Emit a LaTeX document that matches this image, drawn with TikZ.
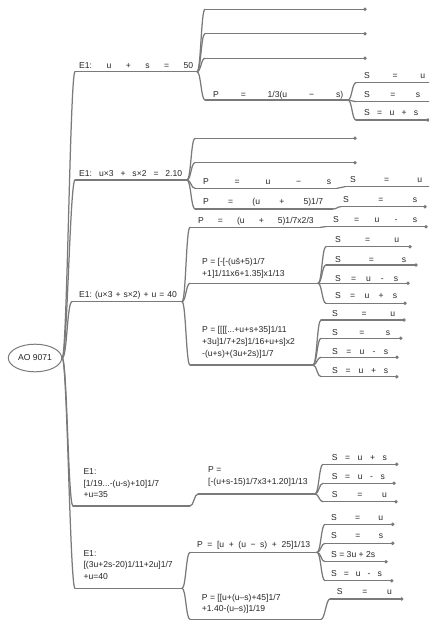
\documentclass[tikz,border=0pt]{standalone}
\usepackage{fontspec}
\setmainfont{Liberation Sans}
\usetikzlibrary{calc,shapes.geometric}
\definecolor{lc}{HTML}{7A7A7A}
\definecolor{tc}{HTML}{262626}
\tikzset{
 ln/.style={draw=lc, line width=1.25pt, line cap=round},
 br/.style={to path={.. controls ($(\tikztostart)+(4,0)$) and ($(\tikztotarget)+(-4,0)$) .. (\tikztotarget)}},
 brr/.style={to path={.. controls ($(\tikztostart)+(5,0)$) and ($(\tikztotarget)+(-5,0)$) .. (\tikztotarget)}},
 txt/.style={anchor=south west, inner sep=0pt, text depth=0pt, align=left, text=tc, font=\fontsize{8.6}{11.6}\selectfont\frenchspacing},
 dotc/.style={fill=lc},
 rootnode/.style={ellipse, draw=lc, line width=1pt, minimum width=53.4pt, minimum height=27.6pt, inner sep=0pt, text=tc, font=\fontsize{8.6}{10}\selectfont},
}
% name, xs, xe, y, tx, baseline, text
\newcommand\mmtopic[7]{%
 \coordinate (#1s) at (#2,#4);
 \coordinate (#1e) at (#3,#4);
 \draw[ln] (#1s) -- (#1e);
 \node[txt] (#1t) at (#5,#6) {#7};
}
\newcommand\mmleaf[4]{%
 \coordinate (#1s) at (#2,#4);
 \coordinate (#1e) at (#3,#4);
 \draw[ln] (#1s) -- (#1e);
 \fill[dotc] (#1e) circle (1.9);
}
\newcommand\mmdot[1]{\fill[dotc] (#1e) circle (1.9);}
\newcommand\js[2]{\makebox[#1pt][s]{#2}}
\begin{document}
\begin{tikzpicture}[x=1pt,y=-1pt]
\useasboundingbox (0,0) rectangle (429,621);
\clip (0,0) rectangle (429,621);

\node[rootnode] (root) at (35,358) {AO 9071};

% ---- E1 #1
\mmtopic{a}{75}{197}{71.7}{79}{68.5}{\js{114}{E1: u + s = 50}}
\mmleaf{a1}{205}{365}{9.3}
\mmleaf{a2}{205}{365}{33.7}
\mmleaf{a3}{205}{365}{58.3}
\mmtopic{a4}{205}{348}{100}{213}{98}{\js{130}{P = 1/3(u − s)}}
\mmtopic{a41}{356}{440}{82.7}{364}{79}{\js{61}{S = u}}
\mmtopic{a42}{356}{440}{101.7}{364}{97.3}{\js{56}{S = s}}
\mmtopic{a43}{356}{428}{120}{364}{115.7}{\js{54}{S = u + s}}
\mmdot{a43}
\draw[ln] (root.east) to[brr] (as);
\foreach \c in {a1,a2,a3,a4} \draw[ln] (ae) to[br] (\c s);
\foreach \c in {a41,a42,a43} \draw[ln] (a4e) to[br] (\c s);

% ---- E1 #2
\mmtopic{b}{75}{187}{180}{79}{177}{\js{103}{E1: u×3 + s×2 = 2.10}}
\mmleaf{b1}{195}{355}{138.3}
\mmleaf{b2}{195}{355}{162.7}
\mmtopic{b3}{195}{337}{188.3}{203}{184.7}{\js{128}{P = u − s}}
\mmtopic{b31}{345}{440}{186.7}{350}{183}{\js{72}{S = u}}
\mmtopic{b4}{195}{333}{209}{203}{204.7}{\js{120}{P = (u + 5)1/7}}
\mmtopic{b41}{341}{425}{206.7}{343}{202.3}{\js{74}{S = s}}
\mmdot{b41}
\draw[ln] (root.east) to[brr] (bs);
\foreach \c in {b1,b2,b3,b4} \draw[ln] (be) to[br] (\c s);
\draw[ln] (b3e) to[br] (b31s);
\draw[ln] (b4e) to[br] (b41s);

% ---- E1 #3
\mmtopic{c}{72}{182}{301.7}{79}{298}{\js{97.7}{E1: (u×3 + s×2) + u = 40}}
\mmtopic{c1}{190}{320}{227.3}{198}{223.7}{\js{115.5}{P = (u + 5)1/7x2/3}}
\mmtopic{c11}{326}{426}{226.7}{333}{222.3}{\js{84}{S = u - s}}
\mmdot{c11}
\mmtopic{c2}{190}{318}{283.3}{202}{276.3}{P = [-[-(uš+5)1/7\\+1]1/11x6+1.35]x1/13}
\mmtopic{c21}{326}{410}{246.7}{335}{243}{\js{64}{S = u}}
\mmtopic{c22}{326}{416}{265}{335}{262.3}{\js{71}{S = s}}
\mmtopic{c23}{326}{408}{283.3}{335}{281.3}{\js{63}{S = u - s}}
\mmtopic{c24}{326}{405}{303.3}{335}{299}{\js{62}{S = u + s}}
\mmdot{c21}\mmdot{c22}\mmdot{c23}\mmdot{c24}
\mmtopic{c3}{190}{313}{365}{202}{356.3}{P = [[[[...+u+s+35]1/11\\+3u]1/7+2s]1/16+u+s]x2\\-(u+s)+(3u+2s)]1/7}
\mmtopic{c31}{321}{404}{320}{332}{317}{\js{63}{S = u}}
\mmtopic{c32}{321}{400.7}{338.3}{332}{335.7}{\js{58}{S = s}}
\mmtopic{c33}{321}{397}{357.3}{332}{354.7}{\js{56}{S = u - s}}
\mmtopic{c34}{321}{396.7}{376.7}{332}{373.7}{\js{56}{S = u + s}}
\mmdot{c31}\mmdot{c32}\mmdot{c33}\mmdot{c34}
\draw[ln] (root.east) to[brr] (cs);
\foreach \c in {c1,c2,c3} \draw[ln] (ce) to[br] (\c s);
\draw[ln] (c1e) to[br] (c11s);
\foreach \c in {c21,c22,c23,c24} \draw[ln] (c2e) to[br] (\c s);
\foreach \c in {c31,c32,c33,c34} \draw[ln] (c3e) to[br] (\c s);

% ---- E1 #4
\mmtopic{d}{73}{190}{506}{83.3}{498}{E1:\\{}[1/19...-(u-s)+10]1/7\\+u=35}
\mmtopic{d1}{198}{315}{494}{208}{484.7}{P =\\{}[-(u+s-15)1/7x3+1.20]1/13}
\mmtopic{d11}{323}{396.7}{464.3}{331.7}{460.7}{\js{55}{S = u + s}}
\mmtopic{d12}{323}{394}{483.3}{331.7}{479.7}{\js{53}{S = u - s}}
\mmtopic{d13}{323}{396}{501.7}{331.7}{498}{\js{55}{S = u}}
\mmdot{d11}\mmdot{d12}\mmdot{d13}
\draw[ln] (root.east) to[brr] (ds);
\draw[ln] (de) to[br] (d1s);
\foreach \c in {d11,d12,d13} \draw[ln] (d1e) to[br] (\c s);

% ---- E1 #5
\mmtopic{e}{75}{182}{588.3}{83.3}{579.7}{E1:\\{}[(3u+2s-20)1/11+2u]1/7\\+u=40}
\mmtopic{e1}{190}{317}{552.3}{197}{548}{\js{113}{P = [u + (u − s) + 25]1/13}}
\mmtopic{e11}{325}{392.7}{524.3}{331}{520.3}{\js{52}{S = u}}
\mmtopic{e12}{325}{392.7}{543.3}{331}{539}{\js{52}{S = s}}
\mmtopic{e13}{325}{386}{561.7}{331}{557.3}{S = 3u + 2s}
\mmtopic{e14}{325}{391.7}{580.7}{331}{576.3}{\js{50.7}{S = u - s}}
\mmdot{e11}\mmdot{e12}\mmdot{e13}\mmdot{e14}
\mmtopic{e2}{190}{321}{619.3}{201.7}{612}{P = [[u+(u–s)+45]1/7\\+1.40-(u–s)]1/19}
\mmtopic{e21}{330}{401.7}{599}{336.7}{594.7}{\js{55}{S = u}}
\mmdot{e21}
\draw[ln] (root.east) to[brr] (es);
\foreach \c in {e1,e2} \draw[ln] (ee) to[br] (\c s);
\foreach \c in {e11,e12,e13,e14} \draw[ln] (e1e) to[br] (\c s);
\draw[ln] (e2e) to[br] (e21s);
\end{tikzpicture}
\end{document}
